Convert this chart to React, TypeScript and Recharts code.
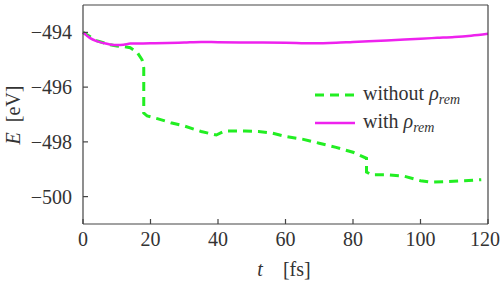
import React from "react";
import { LineChart, Line, XAxis, YAxis, Legend } from "recharts";

// energy trace with the remainder density
const tWith = [0, 2, 4, 6, 8, 10, 12, 14, 20, 25, 30, 35, 40, 50, 60, 68, 75, 80, 90, 100, 105, 110, 115, 120];
const eWith = [
  -494.0, -494.2, -494.32, -494.39, -494.44, -494.46, -494.45, -494.41, -494.4, -494.39, -494.37,
  -494.35, -494.36, -494.37, -494.38, -494.4, -494.38, -494.35, -494.3, -494.23, -494.2, -494.17,
  -494.12, -494.05,
];

// energy trace without it (two vertical jumps)
const tWithout = [
  0, 4, 8, 10, 12, 14, 16, 17.5, 18, 18, 19, 22, 26, 30, 35, 39.5, 42, 48, 52, 56, 60, 65, 70, 75,
  80, 84, 84, 85.5, 90, 95, 100, 103, 108, 113, 118,
];
const eWithout = [
  -494.0, -494.3, -494.45, -494.5, -494.52, -494.56, -494.72, -495.0, -495.3, -496.95, -497.05,
  -497.15, -497.3, -497.42, -497.62, -497.75, -497.6, -497.6, -497.62, -497.68, -497.8, -497.9,
  -498.05, -498.2, -498.38, -498.6, -499.1, -499.2, -499.2, -499.25, -499.42, -499.47, -499.45,
  -499.42, -499.38,
];

const xTicks = [0, 20, 40, 60, 80, 100, 120];
const yTicks = [-500, -498, -496, -494];

const withData = tWith.map((t, i) => ({ t, e: eWith[i] }));
const withoutData = tWithout.map((t, i) => ({ t, e: eWithout[i] }));

const SERIF = "Times New Roman, Liberation Serif, serif";
const TEXT = "#333";
const AXIS = "#444";
const GREEN = "#22ee22";
const MAGENTA = "#ee22ee";
const tickStyle = { fill: TEXT, fontFamily: SERIF, fontSize: 20, style: { fontFamily: SERIF } };

const fmtY = (v: number) => String(v).replace("-", "\u2212");

function Rho() {
  return (
    <span>
      <i>ρ</i>
      <sub style={{ fontSize: 14, fontStyle: "italic", verticalAlign: "-4px" }}>rem</sub>
    </span>
  );
}

function LegendBox() {
  const rows = [
    { label: "without", color: GREEN, dash: "9 6", width: 3 },
    { label: "with", color: MAGENTA, dash: undefined, width: 2.5 },
  ];
  return (
    <div style={{ fontFamily: SERIF, fontSize: 20, color: TEXT }}>
      {rows.map((r) => (
        <div key={r.label} style={{ display: "flex", alignItems: "center", height: 28 }}>
          <svg width={50} height={10}>
            <line x1={2} x2={42} y1={5} y2={5} stroke={r.color} strokeWidth={r.width} strokeDasharray={r.dash} />
          </svg>
          <span style={{ fontFamily: SERIF }}>
            {r.label} <Rho />
          </span>
        </div>
      ))}
    </div>
  );
}

export default function App() {
  return (
    <div style={{ position: "absolute", left: 0, top: 0, background: "#fff", fontFamily: SERIF }}>
      <LineChart
        width={500}
        height={286}
        margin={{ top: 4, right: 11, bottom: 0, left: 0 }}
        style={{ fontFamily: SERIF }}
      >
        <XAxis
          dataKey="t"
          type="number"
          domain={[0, 120]}
          ticks={xTicks}
          height={62}
          tickSize={-5}
          tickMargin={13}
          stroke={AXIS}
          strokeWidth={1.2}
          tick={tickStyle}
          label={{
            content: () => (
              <text
                x={284}
                y={276}
                textAnchor="middle"
                fill={TEXT}
                fontSize={20}
                style={{ fontFamily: SERIF }}
              >
                <tspan fontStyle="italic">t</tspan>
                <tspan dx={20}>[fs]</tspan>
              </text>
            ),
          }}
        />
        <XAxis
          xAxisId="top"
          orientation="top"
          type="number"
          domain={[0, 120]}
          ticks={xTicks}
          height={1}
          tickSize={-5}
          stroke={AXIS}
          strokeWidth={1.2}
          tick={() => <g />}
        />
        <YAxis
          type="number"
          domain={[-501, -493]}
          ticks={yTicks}
          width={83}
          tickSize={-5}
          tickMargin={16}
          stroke={AXIS}
          strokeWidth={1.2}
          tickFormatter={fmtY}
          tick={tickStyle}
          label={{
            content: () => (
              <text
                x={20}
                y={115}
                transform="rotate(-90 20 115)"
                textAnchor="middle"
                fill={TEXT}
                fontSize={20}
                style={{ fontFamily: SERIF }}
              >
                <tspan fontStyle="italic">E</tspan>
                <tspan dx={10}>[eV]</tspan>
              </text>
            ),
          }}
        />
        <YAxis
          yAxisId="right"
          orientation="right"
          type="number"
          domain={[-501, -493]}
          ticks={yTicks}
          width={1}
          tickSize={-5}
          stroke={AXIS}
          strokeWidth={1.2}
          tick={() => <g />}
        />
        <Legend
          layout="vertical"
          align="center"
          verticalAlign="middle"
          wrapperStyle={{ left: 313, top: 81, width: 180 }}
          content={() => <LegendBox />}
        />
        <Line
          data={withoutData}
          dataKey="e"
          type="linear"
          stroke={GREEN}
          strokeWidth={3}
          strokeDasharray="9 6"
          dot={false}
          isAnimationActive={false}
        />
        <Line
          data={withData}
          dataKey="e"
          type="monotone"
          stroke={MAGENTA}
          strokeWidth={2.5}
          dot={false}
          isAnimationActive={false}
        />
      </LineChart>
    </div>
  );
}
